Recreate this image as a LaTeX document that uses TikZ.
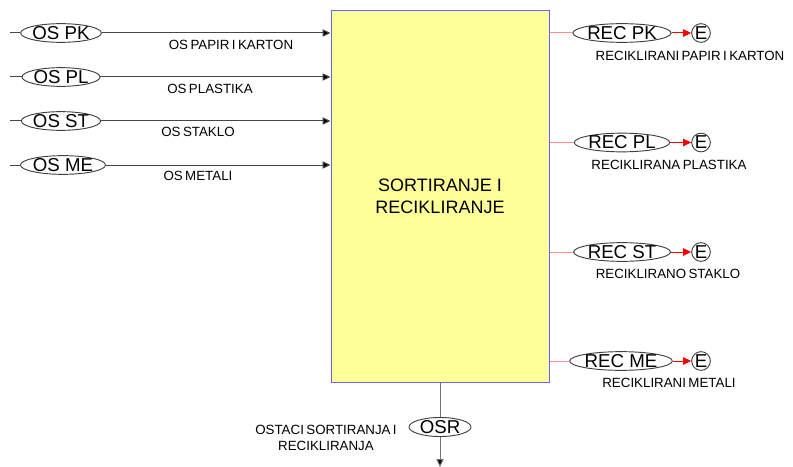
\documentclass[tikz,border=0pt]{standalone}
\usepackage{fontspec}
\setmainfont{Liberation Sans}
\usetikzlibrary{shapes.geometric,arrows.meta}
\definecolor{boxfill}{RGB}{255,255,153}
\definecolor{boxline}{RGB}{100,100,255}
\definecolor{inline}{RGB}{70,70,70}
\definecolor{pinkline}{RGB}{255,140,140}
\newcommand{\lblfont}{\fontsize{10pt}{12pt}\selectfont\spaceskip=0.18em\relax}
\begin{document}
\begin{tikzpicture}[x=0.75pt,y=-0.75pt,
  flow/.style={draw=black!75,ellipse,inner sep=0pt,minimum height=12.6pt,line width=0.7pt,font=\fontsize{14pt}{14pt}\selectfont},
  osflow/.style={flow,minimum width=58.5pt},
  recflow/.style={flow,minimum width=69pt},
  endc/.style={draw=black!75,circle,inner sep=0pt,line width=0.7pt,minimum size=14pt,font=\fontsize{14pt}{14pt}\selectfont},
  lbl/.style={font=\lblfont,inner sep=0pt,align=center},
  inarrow/.style={draw=inline,line width=0.75pt,-{Triangle[length=6pt,width=5.5pt,fill=black]}},
  instub/.style={draw=inline,line width=0.75pt},
  recstub/.style={draw=pinkline,line width=0.75pt},
  redarrow/.style={draw=red,line width=0.75pt,-{Triangle[length=6pt,width=5.5pt,fill=red]}},
  outline/.style={draw=black!55,line width=0.75pt},
  outarrow/.style={draw=black!55,line width=0.75pt,-{Triangle[length=6pt,width=5.5pt,fill=black]}}]
\useasboundingbox (0,0) rectangle (793,467);
% process box
\node[draw=boxline,fill=boxfill,line width=0.75pt,minimum width=163.5pt,minimum height=278.25pt,inner sep=0pt,
  align=center,font=\fontsize{13.5pt}{16.5pt}\selectfont] (box) at (440,196.5) {SORTIRANJE I\\RECIKLIRANJE};
% inputs
\coordinate (s1) at (10,33);
\coordinate (s2) at (10,77);
\coordinate (s3) at (10,121);
\coordinate (s4) at (10,165);
\node[osflow] (ospk) at (61,33) {OS PK};
\node[osflow] (ospl) at (61,77) {OS PL};
\node[osflow] (osst) at (61,121) {OS ST};
\node[osflow] (osme) at (63,165) {OS ME};
\draw[instub] (s1) -- (ospk);
\draw[instub] (s2) -- (ospl);
\draw[instub] (s3) -- (osst);
\draw[instub] (s4) -- (osme);
\draw[inarrow] (ospk) -- (box.west |- ospk);
\draw[inarrow] (ospl) -- (box.west |- ospl);
\draw[inarrow] (osst) -- (box.west |- osst);
\draw[inarrow] (osme) -- (box.west |- osme);
\node[lbl] (lpk) at (231,45) {OS PAPIR I KARTON};
\node[lbl] (lpl) at (210,89) {OS PLASTIKA};
\node[lbl] (lst) at (198,132) {OS STAKLO};
\node[lbl] (lme) at (198,176) {OS METALI};
% outputs
\node[recflow] (recpk) at (622,33) {REC PK};
\node[recflow] (recpl) at (622,142.5) {REC PL};
\node[recflow] (recst) at (622,252) {REC ST};
\node[recflow] (recme) at (621,361) {REC ME};
\node[endc] (e1) at (701,33) {E};
\node[endc] (e2) at (701,142.5) {E};
\node[endc] (e3) at (701,252) {E};
\node[endc] (e4) at (701,361) {E};
\draw[recstub] (box.east |- recpk) -- (recpk);
\draw[recstub] (box.east |- recpl) -- (recpl);
\draw[recstub] (box.east |- recst) -- (recst);
\draw[recstub] (box.east |- recme) -- (recme);
\draw[redarrow] (recpk) -- (e1);
\draw[redarrow] (recpl) -- (e2);
\draw[redarrow] (recst) -- (e3);
\draw[redarrow] (recme) -- (e4);
\node[lbl] (rlpk) at (690,56) {RECIKLIRANI PAPIR I KARTON};
\node[lbl] (rlpl) at (669,165) {RECIKLIRANA PLASTIKA};
\node[lbl] (rlst) at (668,274) {RECIKLIRANO STAKLO};
\node[lbl] (rlme) at (669,383) {RECIKLIRANI METALI};
% residue
\node[flow,minimum width=46.5pt,minimum height=14.25pt] (osr) at (440,427) {OSR};
\coordinate (bend) at (440,467);
\draw[outline] (box.south) -- (osr);
\draw[outarrow] (osr) -- (bend);
\node[lbl] (losr) at (326,438) {OSTACI SORTIRANJA I\\RECIKLIRANJA};
\end{tikzpicture}
\end{document}
